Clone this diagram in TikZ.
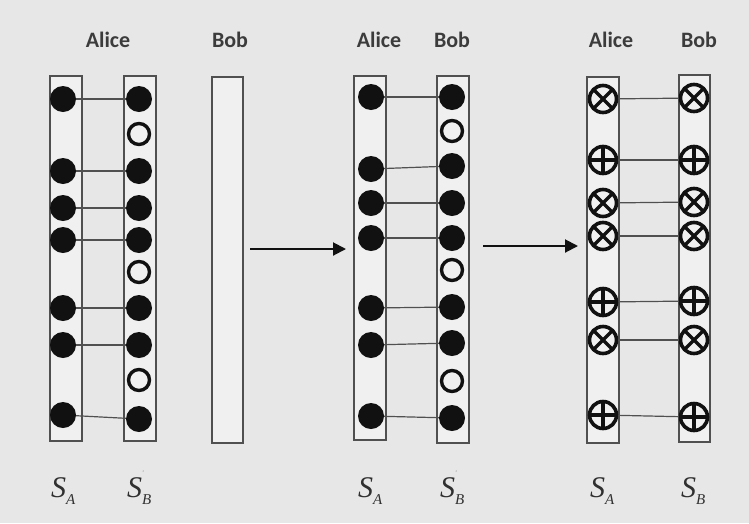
\documentclass[tikz,border=0pt]{standalone}
\usepackage{fontspec}
\usetikzlibrary{arrows.meta}
\newfontfamily\headfont{Carlito}
\newfontfamily\mathlikefont{Liberation Serif}
\definecolor{bg}{HTML}{E7E7E7}
\definecolor{colfill}{HTML}{F0F0F0}
\definecolor{edge}{HTML}{505050}
\definecolor{ink}{HTML}{111111}
\definecolor{headink}{HTML}{3C3C3C}
\newcommand{\subA}{\raisebox{-7pt}{\fontsize{15}{15}\selectfont A}}
\newcommand{\subB}{\raisebox{-7pt}{\fontsize{15}{15}\selectfont B}}
\newcommand{\tinyprime}{\rlap{\raisebox{22pt}{\fontsize{7}{7}\selectfont\color{gray}'}}}
\begin{document}
\begin{tikzpicture}[x=1pt,y=-1pt,
  col/.style={draw=edge,fill=colfill,line width=1.3pt,minimum width=32pt,inner sep=0pt},
  fdot/.style={circle,fill=ink,minimum size=26pt,inner sep=0pt},
  odot/.style={circle,draw=ink,fill=colfill,line width=3.4pt,minimum size=21pt,inner sep=0pt},
  xsym/.style={circle,draw=ink,line width=3.6pt,minimum size=27pt,inner sep=0pt,
    path picture={\draw[ink,line width=3.4pt]
      (path picture bounding box.north west) -- (path picture bounding box.south east)
      (path picture bounding box.north east) -- (path picture bounding box.south west);}},
  psym/.style={circle,draw=ink,line width=3.6pt,minimum size=27pt,inner sep=0pt,
    path picture={\draw[ink,line width=3.4pt]
      (path picture bounding box.north) -- (path picture bounding box.south)
      (path picture bounding box.east) -- (path picture bounding box.west);}},
  link/.style={draw=edge,line width=1.2pt},
  arr/.style={draw=ink,line width=2pt,-{Triangle[length=13pt,width=13pt]}},
  head/.style={font=\headfont\bfseries\fontsize{22}{22}\selectfont,text=headink,inner sep=0pt,anchor=base},
  slab/.style={font=\mathlikefont\itshape\fontsize{30}{30}\selectfont,text=headink!80!black,inner sep=0pt,anchor=base west}
]
% background
\path[fill=bg] (0,0) rectangle (749,523);

% ---------- headings ----------
\node[head] (h1a) at (108,47) {Alice};
\node[head] (h1b) at (230,47) {Bob};
\node[head] (h2a) at (379,47) {Alice};
\node[head] (h2b) at (452,47) {Bob};
\node[head] (h3a) at (611,47) {Alice};
\node[head] (h3b) at (699,47) {Bob};

% ---------- columns ----------
\node[col,minimum height=365pt] (colA1) at (66,258.5) {};
\node[col,minimum height=365pt] (colB1) at (140,258.5) {};
\node[col,minimum height=366pt,minimum width=31pt] (colE) at (227.5,260) {};
\node[col,minimum height=364pt] (colA2) at (370,258) {};
\node[col,minimum height=367pt] (colB2) at (453,259.5) {};
\node[col,minimum height=366pt] (colA3) at (603,260) {};
\node[col,minimum height=367pt,minimum width=31pt] (colB3) at (694.5,258.5) {};

% ---------- first stage ----------
\foreach \y [count=\i] in {99,171,208,240,308,345,415}
  \node[fdot] (a\i) at (63,\y) {};
\node[fdot] (b1) at (139,99) {};
\node[odot] (b2) at (139,134) {};
\node[fdot] (b3) at (139,171) {};
\node[fdot] (b4) at (139,208) {};
\node[fdot] (b5) at (139,240) {};
\node[odot] (b6) at (139,272) {};
\node[fdot] (b7) at (139,308) {};
\node[fdot] (b8) at (139,345) {};
\node[odot] (b9) at (139,380) {};
\node[fdot] (b10) at (139,419) {};
\foreach \p/\q in {a1/b1,a2/b3,a3/b4,a4/b5,a5/b7,a6/b8,a7/b10}
  \draw[link] (\p) -- (\q);

% ---------- second stage ----------
\node[fdot] (c1) at (371,97) {};
\node[fdot] (c2) at (371,169) {};
\node[fdot] (c3) at (371,203) {};
\node[fdot] (c4) at (371,238) {};
\node[fdot] (c5) at (371,308) {};
\node[fdot] (c6) at (371,345) {};
\node[fdot] (c7) at (371,416) {};
\node[fdot] (d1) at (452,97) {};
\node[odot] (d2) at (452,131) {};
\node[fdot] (d3) at (452,166) {};
\node[fdot] (d4) at (452,203) {};
\node[fdot] (d5) at (452,238) {};
\node[odot] (d6) at (452,270) {};
\node[fdot] (d7) at (452,307) {};
\node[fdot] (d8) at (452,343) {};
\node[odot] (d9) at (452,381) {};
\node[fdot] (d10) at (452,418) {};
\foreach \p/\q in {c1/d1,c2/d3,c3/d4,c4/d5,c5/d7,c6/d8,c7/d10}
  \draw[link] (\p) -- (\q);

% ---------- third stage ----------
\node[xsym] (e1) at (603,99) {};
\node[psym] (e2) at (603,160) {};
\node[xsym] (e3) at (603,203) {};
\node[xsym] (e4) at (603,236) {};
\node[psym] (e5) at (603,302) {};
\node[xsym] (e6) at (603,340) {};
\node[psym] (e7) at (603,415) {};
\node[xsym] (f1) at (694,98) {};
\node[psym] (f2) at (694,160) {};
\node[xsym] (f3) at (694,202) {};
\node[xsym] (f4) at (694,236) {};
\node[psym] (f5) at (694,301) {};
\node[xsym] (f6) at (694,340) {};
\node[psym] (f7) at (694,417) {};
\foreach \i in {1,...,7}
  \draw[link] (e\i) -- (f\i);

% ---------- arrows ----------
\coordinate (ar1s) at (250,249);
\coordinate (ar1e) at (346,249);
\coordinate (ar2s) at (483,246);
\coordinate (ar2e) at (578,246);
\draw[arr] (ar1s) -- (ar1e);
\draw[arr] (ar2s) -- (ar2e);

% ---------- state labels ----------
\node[slab] (s1a) at (51,497) {S\subA};
\node[slab] (s1b) at (127,497) {S\tinyprime\subB};
\node[slab] (s2a) at (358,497) {S\subA};
\node[slab] (s2b) at (440,497) {S\tinyprime\subB};
\node[slab] (s3a) at (590,497) {S\subA};
\node[slab] (s3b) at (681,497) {S\subB};
\end{tikzpicture}
\end{document}
